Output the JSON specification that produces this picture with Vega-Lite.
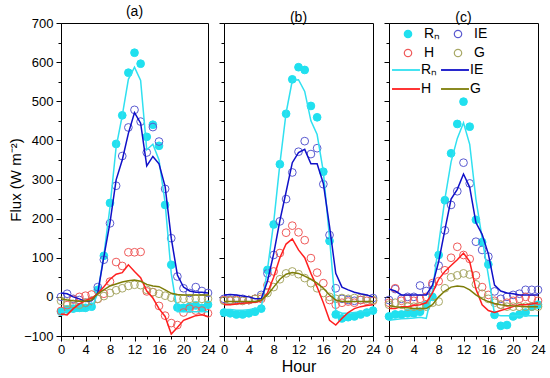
{
"$schema":"https://vega.github.io/schema/vega-lite/v6.json",
"background":"white",
"padding":{"left":8,"top":4,"right":2,"bottom":2},
"bounds":"flush",
"spacing":16,
"config":{
 "font":"Liberation Sans",
 "view":{"stroke":"black","strokeWidth":1},
 "axis":{"domainColor":"black","tickColor":"black","labelColor":"black","labelFontSize":13,"titleFontSize":15,"titleFontWeight":"normal","titleColor":"black","grid":false,"domainWidth":1,"tickWidth":1,"labelFlush":false},
 "title":{"fontSize":14,"fontWeight":"normal","color":"black","offset":-2},
 "legend":{"labelFont":"Liberation Sans","labelColor":"black"}
},
"datasets":{
"a_o":[
{"s":"Rₙ","h":0,"v":-38},{"s":"Rₙ","h":1,"v":-32},{"s":"Rₙ","h":2,"v":-30},{"s":"Rₙ","h":3,"v":-28},{"s":"Rₙ","h":4,"v":-28},{"s":"Rₙ","h":5,"v":-25},{"s":"Rₙ","h":6,"v":18},{"s":"Rₙ","h":7,"v":105},{"s":"Rₙ","h":8,"v":240},{"s":"Rₙ","h":9,"v":391},{"s":"Rₙ","h":10,"v":464},{"s":"Rₙ","h":11,"v":573},{"s":"Rₙ","h":12,"v":624},{"s":"Rₙ","h":13,"v":596},{"s":"Rₙ","h":14,"v":409},{"s":"Rₙ","h":15,"v":440},{"s":"Rₙ","h":16,"v":386},{"s":"Rₙ","h":17,"v":235},{"s":"Rₙ","h":18,"v":82},{"s":"Rₙ","h":19,"v":-27},{"s":"Rₙ","h":20,"v":-28},{"s":"Rₙ","h":21,"v":-25},{"s":"Rₙ","h":22,"v":-22},{"s":"Rₙ","h":23,"v":-28},{"s":"Rₙ","h":24,"v":-20},
{"s":"IE","h":0,"v":0},{"s":"IE","h":1,"v":8},{"s":"IE","h":2,"v":-5},{"s":"IE","h":3,"v":-8},{"s":"IE","h":4,"v":-15},{"s":"IE","h":5,"v":-10},{"s":"IE","h":6,"v":25},{"s":"IE","h":7,"v":95},{"s":"IE","h":8,"v":188},{"s":"IE","h":9,"v":284},{"s":"IE","h":10,"v":360},{"s":"IE","h":11,"v":433},{"s":"IE","h":12,"v":478},{"s":"IE","h":13,"v":448},{"s":"IE","h":14,"v":369},{"s":"IE","h":15,"v":434},{"s":"IE","h":16,"v":397},{"s":"IE","h":17,"v":276},{"s":"IE","h":18,"v":150},{"s":"IE","h":19,"v":52},{"s":"IE","h":20,"v":22},{"s":"IE","h":21,"v":10},{"s":"IE","h":22,"v":25},{"s":"IE","h":23,"v":15},{"s":"IE","h":24,"v":10},
{"s":"H","h":0,"v":-36},{"s":"H","h":1,"v":-21},{"s":"H","h":2,"v":-7},{"s":"H","h":3,"v":0},{"s":"H","h":4,"v":3},{"s":"H","h":5,"v":6},{"s":"H","h":6,"v":-5},{"s":"H","h":7,"v":8},{"s":"H","h":8,"v":39},{"s":"H","h":9,"v":89},{"s":"H","h":10,"v":79},{"s":"H","h":11,"v":114},{"s":"H","h":12,"v":114},{"s":"H","h":13,"v":115},{"s":"H","h":14,"v":14},{"s":"H","h":15,"v":12},{"s":"H","h":16,"v":-23},{"s":"H","h":17,"v":-48},{"s":"H","h":18,"v":-67},{"s":"H","h":19,"v":-72},{"s":"H","h":20,"v":-40},{"s":"H","h":21,"v":-30},{"s":"H","h":22,"v":-35},{"s":"H","h":23,"v":-35},{"s":"H","h":24,"v":-42},
{"s":"G","h":0,"v":-10},{"s":"G","h":1,"v":-15},{"s":"G","h":2,"v":-18},{"s":"G","h":3,"v":-20},{"s":"G","h":4,"v":-15},{"s":"G","h":5,"v":-10},{"s":"G","h":6,"v":-5},{"s":"G","h":7,"v":2},{"s":"G","h":8,"v":10},{"s":"G","h":9,"v":17},{"s":"G","h":10,"v":22},{"s":"G","h":11,"v":28},{"s":"G","h":12,"v":31},{"s":"G","h":13,"v":30},{"s":"G","h":14,"v":18},{"s":"G","h":15,"v":12},{"s":"G","h":16,"v":8},{"s":"G","h":17,"v":3},{"s":"G","h":18,"v":-2},{"s":"G","h":19,"v":-5},{"s":"G","h":20,"v":-5},{"s":"G","h":21,"v":-5},{"s":"G","h":22,"v":-5},{"s":"G","h":23,"v":-5},{"s":"G","h":24,"v":-5}
],
"a_m":[
{"s":"Rₙ","h":0,"v":-38},{"s":"Rₙ","h":1,"v":-38},{"s":"Rₙ","h":2,"v":-37},{"s":"Rₙ","h":3,"v":-37},{"s":"Rₙ","h":4,"v":-36},{"s":"Rₙ","h":5,"v":-30},{"s":"Rₙ","h":6,"v":10},{"s":"Rₙ","h":7,"v":107},{"s":"Rₙ","h":8,"v":230},{"s":"Rₙ","h":9,"v":383},{"s":"Rₙ","h":10,"v":463},{"s":"Rₙ","h":11,"v":556},{"s":"Rₙ","h":12,"v":587},{"s":"Rₙ","h":13,"v":553},{"s":"Rₙ","h":14,"v":376},{"s":"Rₙ","h":15,"v":390},{"s":"Rₙ","h":16,"v":350},{"s":"Rₙ","h":17,"v":240},{"s":"Rₙ","h":18,"v":60},{"s":"Rₙ","h":19,"v":-38},{"s":"Rₙ","h":20,"v":-38},{"s":"Rₙ","h":21,"v":-38},{"s":"Rₙ","h":22,"v":-38},{"s":"Rₙ","h":23,"v":-38},{"s":"Rₙ","h":24,"v":-38},
{"s":"IE","h":0,"v":10},{"s":"IE","h":1,"v":8},{"s":"IE","h":2,"v":0},{"s":"IE","h":3,"v":-5},{"s":"IE","h":4,"v":-12},{"s":"IE","h":5,"v":-10},{"s":"IE","h":6,"v":10},{"s":"IE","h":7,"v":103},{"s":"IE","h":8,"v":190},{"s":"IE","h":9,"v":299},{"s":"IE","h":10,"v":350},{"s":"IE","h":11,"v":418},{"s":"IE","h":12,"v":471},{"s":"IE","h":13,"v":444},{"s":"IE","h":14,"v":335},{"s":"IE","h":15,"v":359},{"s":"IE","h":16,"v":340},{"s":"IE","h":17,"v":282},{"s":"IE","h":18,"v":150},{"s":"IE","h":19,"v":56},{"s":"IE","h":20,"v":25},{"s":"IE","h":21,"v":15},{"s":"IE","h":22,"v":12},{"s":"IE","h":23,"v":12},{"s":"IE","h":24,"v":10},
{"s":"H","h":0,"v":-44},{"s":"H","h":1,"v":-46},{"s":"H","h":2,"v":-30},{"s":"H","h":3,"v":-18},{"s":"H","h":4,"v":-10},{"s":"H","h":5,"v":-3},{"s":"H","h":6,"v":8},{"s":"H","h":7,"v":26},{"s":"H","h":8,"v":45},{"s":"H","h":9,"v":58},{"s":"H","h":10,"v":62},{"s":"H","h":11,"v":82},{"s":"H","h":12,"v":65},{"s":"H","h":13,"v":49},{"s":"H","h":14,"v":15},{"s":"H","h":15,"v":-3},{"s":"H","h":16,"v":-30},{"s":"H","h":17,"v":-50},{"s":"H","h":18,"v":-95},{"s":"H","h":19,"v":-78},{"s":"H","h":20,"v":-60},{"s":"H","h":21,"v":-54},{"s":"H","h":22,"v":-48},{"s":"H","h":23,"v":-46},{"s":"H","h":24,"v":-50},
{"s":"G","h":0,"v":-5},{"s":"G","h":1,"v":-8},{"s":"G","h":2,"v":-10},{"s":"G","h":3,"v":-11},{"s":"G","h":4,"v":-11},{"s":"G","h":5,"v":-8},{"s":"G","h":6,"v":8},{"s":"G","h":7,"v":18},{"s":"G","h":8,"v":28},{"s":"G","h":9,"v":33},{"s":"G","h":10,"v":38},{"s":"G","h":11,"v":41},{"s":"G","h":12,"v":43},{"s":"G","h":13,"v":40},{"s":"G","h":14,"v":32},{"s":"G","h":15,"v":28},{"s":"G","h":16,"v":26},{"s":"G","h":17,"v":18},{"s":"G","h":18,"v":9},{"s":"G","h":19,"v":6},{"s":"G","h":20,"v":5},{"s":"G","h":21,"v":5},{"s":"G","h":22,"v":5},{"s":"G","h":23,"v":5},{"s":"G","h":24,"v":5}
],
"b_o":[
{"s":"Rₙ","h":0,"v":-40},{"s":"Rₙ","h":1,"v":-42},{"s":"Rₙ","h":2,"v":-45},{"s":"Rₙ","h":3,"v":-45},{"s":"Rₙ","h":4,"v":-42},{"s":"Rₙ","h":5,"v":-38},{"s":"Rₙ","h":6,"v":-30},{"s":"Rₙ","h":7,"v":69},{"s":"Rₙ","h":8,"v":185},{"s":"Rₙ","h":9,"v":339},{"s":"Rₙ","h":10,"v":468},{"s":"Rₙ","h":11,"v":556},{"s":"Rₙ","h":12,"v":587},{"s":"Rₙ","h":13,"v":580},{"s":"Rₙ","h":14,"v":488},{"s":"Rₙ","h":15,"v":459},{"s":"Rₙ","h":16,"v":320},{"s":"Rₙ","h":17,"v":143},{"s":"Rₙ","h":18,"v":-45},{"s":"Rₙ","h":19,"v":-55},{"s":"Rₙ","h":20,"v":-52},{"s":"Rₙ","h":21,"v":-50},{"s":"Rₙ","h":22,"v":-45},{"s":"Rₙ","h":23,"v":-40},{"s":"Rₙ","h":24,"v":-35},
{"s":"IE","h":0,"v":-5},{"s":"IE","h":1,"v":-8},{"s":"IE","h":2,"v":-5},{"s":"IE","h":3,"v":-5},{"s":"IE","h":4,"v":-8},{"s":"IE","h":5,"v":-5},{"s":"IE","h":6,"v":5},{"s":"IE","h":7,"v":60},{"s":"IE","h":8,"v":107},{"s":"IE","h":9,"v":193},{"s":"IE","h":10,"v":250},{"s":"IE","h":11,"v":318},{"s":"IE","h":12,"v":371},{"s":"IE","h":13,"v":398},{"s":"IE","h":14,"v":365},{"s":"IE","h":15,"v":380},{"s":"IE","h":16,"v":288},{"s":"IE","h":17,"v":158},{"s":"IE","h":18,"v":22},{"s":"IE","h":19,"v":-5},{"s":"IE","h":20,"v":-8},{"s":"IE","h":21,"v":-10},{"s":"IE","h":22,"v":-8},{"s":"IE","h":23,"v":-5},{"s":"IE","h":24,"v":-3},
{"s":"H","h":0,"v":-8},{"s":"H","h":1,"v":-10},{"s":"H","h":2,"v":-8},{"s":"H","h":3,"v":-10},{"s":"H","h":4,"v":-8},{"s":"H","h":5,"v":-5},{"s":"H","h":6,"v":-5},{"s":"H","h":7,"v":30},{"s":"H","h":8,"v":65},{"s":"H","h":9,"v":112},{"s":"H","h":10,"v":164},{"s":"H","h":11,"v":182},{"s":"H","h":12,"v":165},{"s":"H","h":13,"v":145},{"s":"H","h":14,"v":99},{"s":"H","h":15,"v":62},{"s":"H","h":16,"v":35},{"s":"H","h":17,"v":-8},{"s":"H","h":18,"v":-20},{"s":"H","h":19,"v":-15},{"s":"H","h":20,"v":-12},{"s":"H","h":21,"v":-15},{"s":"H","h":22,"v":-8},{"s":"H","h":23,"v":-10},{"s":"H","h":24,"v":-10},
{"s":"G","h":0,"v":-10},{"s":"G","h":1,"v":-8},{"s":"G","h":2,"v":-10},{"s":"G","h":3,"v":-10},{"s":"G","h":4,"v":-8},{"s":"G","h":5,"v":-5},{"s":"G","h":6,"v":0},{"s":"G","h":7,"v":10},{"s":"G","h":8,"v":25},{"s":"G","h":9,"v":45},{"s":"G","h":10,"v":60},{"s":"G","h":11,"v":65},{"s":"G","h":12,"v":58},{"s":"G","h":13,"v":48},{"s":"G","h":14,"v":35},{"s":"G","h":15,"v":22},{"s":"G","h":16,"v":10},{"s":"G","h":17,"v":0},{"s":"G","h":18,"v":-5},{"s":"G","h":19,"v":-3},{"s":"G","h":20,"v":-5},{"s":"G","h":21,"v":-3},{"s":"G","h":22,"v":-3},{"s":"G","h":23,"v":-5},{"s":"G","h":24,"v":-8}
],
"b_m":[
{"s":"Rₙ","h":0,"v":-32},{"s":"Rₙ","h":1,"v":-32},{"s":"Rₙ","h":2,"v":-34},{"s":"Rₙ","h":3,"v":-34},{"s":"Rₙ","h":4,"v":-33},{"s":"Rₙ","h":5,"v":-30},{"s":"Rₙ","h":6,"v":-28},{"s":"Rₙ","h":7,"v":70},{"s":"Rₙ","h":8,"v":190},{"s":"Rₙ","h":9,"v":340},{"s":"Rₙ","h":10,"v":470},{"s":"Rₙ","h":11,"v":553},{"s":"Rₙ","h":12,"v":555},{"s":"Rₙ","h":13,"v":525},{"s":"Rₙ","h":14,"v":450},{"s":"Rₙ","h":15,"v":415},{"s":"Rₙ","h":16,"v":320},{"s":"Rₙ","h":17,"v":150},{"s":"Rₙ","h":18,"v":-35},{"s":"Rₙ","h":19,"v":-42},{"s":"Rₙ","h":20,"v":-42},{"s":"Rₙ","h":21,"v":-40},{"s":"Rₙ","h":22,"v":-38},{"s":"Rₙ","h":23,"v":-36},{"s":"Rₙ","h":24,"v":-34},
{"s":"IE","h":0,"v":5},{"s":"IE","h":1,"v":6},{"s":"IE","h":2,"v":5},{"s":"IE","h":3,"v":2},{"s":"IE","h":4,"v":0},{"s":"IE","h":5,"v":-5},{"s":"IE","h":6,"v":-5},{"s":"IE","h":7,"v":40},{"s":"IE","h":8,"v":110},{"s":"IE","h":9,"v":195},{"s":"IE","h":10,"v":268},{"s":"IE","h":11,"v":343},{"s":"IE","h":12,"v":369},{"s":"IE","h":13,"v":377},{"s":"IE","h":14,"v":340},{"s":"IE","h":15,"v":340},{"s":"IE","h":16,"v":290},{"s":"IE","h":17,"v":180},{"s":"IE","h":18,"v":60},{"s":"IE","h":19,"v":25},{"s":"IE","h":20,"v":18},{"s":"IE","h":21,"v":12},{"s":"IE","h":22,"v":8},{"s":"IE","h":23,"v":5},{"s":"IE","h":24,"v":0},
{"s":"H","h":0,"v":-20},{"s":"H","h":1,"v":-20},{"s":"H","h":2,"v":-18},{"s":"H","h":3,"v":-16},{"s":"H","h":4,"v":-15},{"s":"H","h":5,"v":-14},{"s":"H","h":6,"v":-10},{"s":"H","h":7,"v":10},{"s":"H","h":8,"v":50},{"s":"H","h":9,"v":100},{"s":"H","h":10,"v":135},{"s":"H","h":11,"v":148},{"s":"H","h":12,"v":120},{"s":"H","h":13,"v":100},{"s":"H","h":14,"v":60},{"s":"H","h":15,"v":25},{"s":"H","h":16,"v":-15},{"s":"H","h":17,"v":-60},{"s":"H","h":18,"v":-72},{"s":"H","h":19,"v":-55},{"s":"H","h":20,"v":-40},{"s":"H","h":21,"v":-30},{"s":"H","h":22,"v":-25},{"s":"H","h":23,"v":-22},{"s":"H","h":24,"v":-20},
{"s":"G","h":0,"v":-12},{"s":"G","h":1,"v":-12},{"s":"G","h":2,"v":-12},{"s":"G","h":3,"v":-12},{"s":"G","h":4,"v":-12},{"s":"G","h":5,"v":-12},{"s":"G","h":6,"v":-8},{"s":"G","h":7,"v":5},{"s":"G","h":8,"v":25},{"s":"G","h":9,"v":45},{"s":"G","h":10,"v":58},{"s":"G","h":11,"v":62},{"s":"G","h":12,"v":60},{"s":"G","h":13,"v":53},{"s":"G","h":14,"v":45},{"s":"G","h":15,"v":35},{"s":"G","h":16,"v":22},{"s":"G","h":17,"v":5},{"s":"G","h":18,"v":-8},{"s":"G","h":19,"v":-12},{"s":"G","h":20,"v":-12},{"s":"G","h":21,"v":-12},{"s":"G","h":22,"v":-12},{"s":"G","h":23,"v":-12},{"s":"G","h":24,"v":-12}
],
"c_o":[
{"s":"Rₙ","h":0,"v":-50},{"s":"Rₙ","h":1,"v":-45},{"s":"Rₙ","h":2,"v":-45},{"s":"Rₙ","h":3,"v":-42},{"s":"Rₙ","h":4,"v":-42},{"s":"Rₙ","h":5,"v":-38},{"s":"Rₙ","h":6,"v":-20},{"s":"Rₙ","h":7,"v":0},{"s":"Rₙ","h":8,"v":107},{"s":"Rₙ","h":9,"v":247},{"s":"Rₙ","h":10,"v":367},{"s":"Rₙ","h":11,"v":442},{"s":"Rₙ","h":12,"v":499},{"s":"Rₙ","h":13,"v":435},{"s":"Rₙ","h":14,"v":197},{"s":"Rₙ","h":15,"v":140},{"s":"Rₙ","h":16,"v":83},{"s":"Rₙ","h":17,"v":-46},{"s":"Rₙ","h":18,"v":-74},{"s":"Rₙ","h":19,"v":-72},{"s":"Rₙ","h":20,"v":-50},{"s":"Rₙ","h":21,"v":-45},{"s":"Rₙ","h":22,"v":-40},{"s":"Rₙ","h":23,"v":-25},{"s":"Rₙ","h":24,"v":-20},
{"s":"IE","h":0,"v":-8},{"s":"IE","h":1,"v":20},{"s":"IE","h":2,"v":-5},{"s":"IE","h":3,"v":0},{"s":"IE","h":4,"v":0},{"s":"IE","h":5,"v":29},{"s":"IE","h":6,"v":15},{"s":"IE","h":7,"v":30},{"s":"IE","h":8,"v":80},{"s":"IE","h":9,"v":170},{"s":"IE","h":10,"v":235},{"s":"IE","h":11,"v":270},{"s":"IE","h":12,"v":343},{"s":"IE","h":13,"v":290},{"s":"IE","h":14,"v":141},{"s":"IE","h":15,"v":120},{"s":"IE","h":16,"v":103},{"s":"IE","h":17,"v":14},{"s":"IE","h":18,"v":-5},{"s":"IE","h":19,"v":0},{"s":"IE","h":20,"v":5},{"s":"IE","h":21,"v":8},{"s":"IE","h":22,"v":18},{"s":"IE","h":23,"v":18},{"s":"IE","h":24,"v":18},
{"s":"H","h":0,"v":-15},{"s":"H","h":1,"v":22},{"s":"H","h":2,"v":-10},{"s":"H","h":3,"v":-5},{"s":"H","h":4,"v":-10},{"s":"H","h":5,"v":-5},{"s":"H","h":6,"v":0},{"s":"H","h":7,"v":35},{"s":"H","h":8,"v":40},{"s":"H","h":9,"v":68},{"s":"H","h":10,"v":100},{"s":"H","h":11,"v":128},{"s":"H","h":12,"v":107},{"s":"H","h":13,"v":97},{"s":"H","h":14,"v":55},{"s":"H","h":15,"v":25},{"s":"H","h":16,"v":5},{"s":"H","h":17,"v":-10},{"s":"H","h":18,"v":-20},{"s":"H","h":19,"v":-15},{"s":"H","h":20,"v":-10},{"s":"H","h":21,"v":-5},{"s":"H","h":22,"v":0},{"s":"H","h":23,"v":-5},{"s":"H","h":24,"v":-10},
{"s":"G","h":0,"v":-20},{"s":"G","h":1,"v":-15},{"s":"G","h":2,"v":-20},{"s":"G","h":3,"v":-25},{"s":"G","h":4,"v":-25},{"s":"G","h":5,"v":-25},{"s":"G","h":6,"v":-25},{"s":"G","h":7,"v":-15},{"s":"G","h":8,"v":-12},{"s":"G","h":9,"v":22},{"s":"G","h":10,"v":50},{"s":"G","h":11,"v":55},{"s":"G","h":12,"v":60},{"s":"G","h":13,"v":57},{"s":"G","h":14,"v":32},{"s":"G","h":15,"v":8},{"s":"G","h":16,"v":-5},{"s":"G","h":17,"v":-15},{"s":"G","h":18,"v":-20},{"s":"G","h":19,"v":-25},{"s":"G","h":20,"v":-25},{"s":"G","h":21,"v":-25},{"s":"G","h":22,"v":-25},{"s":"G","h":23,"v":-25},{"s":"G","h":24,"v":-25}
],
"c_m":[
{"s":"Rₙ","h":0,"v":-60},{"s":"Rₙ","h":1,"v":-58},{"s":"Rₙ","h":2,"v":-56},{"s":"Rₙ","h":3,"v":-55},{"s":"Rₙ","h":4,"v":-54},{"s":"Rₙ","h":5,"v":-52},{"s":"Rₙ","h":6,"v":-55},{"s":"Rₙ","h":7,"v":15},{"s":"Rₙ","h":8,"v":135},{"s":"Rₙ","h":9,"v":250},{"s":"Rₙ","h":10,"v":345},{"s":"Rₙ","h":11,"v":405},{"s":"Rₙ","h":12,"v":445},{"s":"Rₙ","h":13,"v":390},{"s":"Rₙ","h":14,"v":250},{"s":"Rₙ","h":15,"v":150},{"s":"Rₙ","h":16,"v":55},{"s":"Rₙ","h":17,"v":-45},{"s":"Rₙ","h":18,"v":-48},{"s":"Rₙ","h":19,"v":-48},{"s":"Rₙ","h":20,"v":-48},{"s":"Rₙ","h":21,"v":-48},{"s":"Rₙ","h":22,"v":-48},{"s":"Rₙ","h":23,"v":-48},{"s":"Rₙ","h":24,"v":-48},
{"s":"IE","h":0,"v":20},{"s":"IE","h":1,"v":15},{"s":"IE","h":2,"v":5},{"s":"IE","h":3,"v":5},{"s":"IE","h":4,"v":5},{"s":"IE","h":5,"v":5},{"s":"IE","h":6,"v":5},{"s":"IE","h":7,"v":30},{"s":"IE","h":8,"v":90},{"s":"IE","h":9,"v":171},{"s":"IE","h":10,"v":250},{"s":"IE","h":11,"v":275},{"s":"IE","h":12,"v":314},{"s":"IE","h":13,"v":280},{"s":"IE","h":14,"v":190},{"s":"IE","h":15,"v":160},{"s":"IE","h":16,"v":110},{"s":"IE","h":17,"v":30},{"s":"IE","h":18,"v":15},{"s":"IE","h":19,"v":10},{"s":"IE","h":20,"v":8},{"s":"IE","h":21,"v":5},{"s":"IE","h":22,"v":5},{"s":"IE","h":23,"v":5},{"s":"IE","h":24,"v":5},
{"s":"H","h":0,"v":-30},{"s":"H","h":1,"v":-30},{"s":"H","h":2,"v":-25},{"s":"H","h":3,"v":-25},{"s":"H","h":4,"v":-22},{"s":"H","h":5,"v":-20},{"s":"H","h":6,"v":-15},{"s":"H","h":7,"v":10},{"s":"H","h":8,"v":45},{"s":"H","h":9,"v":65},{"s":"H","h":10,"v":80},{"s":"H","h":11,"v":95},{"s":"H","h":12,"v":112},{"s":"H","h":13,"v":90},{"s":"H","h":14,"v":20},{"s":"H","h":15,"v":-20},{"s":"H","h":16,"v":-35},{"s":"H","h":17,"v":-40},{"s":"H","h":18,"v":-35},{"s":"H","h":19,"v":-30},{"s":"H","h":20,"v":-25},{"s":"H","h":21,"v":-20},{"s":"H","h":22,"v":-20},{"s":"H","h":23,"v":-18},{"s":"H","h":24,"v":-15},
{"s":"G","h":0,"v":-22},{"s":"G","h":1,"v":-25},{"s":"G","h":2,"v":-27},{"s":"G","h":3,"v":-28},{"s":"G","h":4,"v":-30},{"s":"G","h":5,"v":-30},{"s":"G","h":6,"v":-30},{"s":"G","h":7,"v":-20},{"s":"G","h":8,"v":0},{"s":"G","h":9,"v":15},{"s":"G","h":10,"v":25},{"s":"G","h":11,"v":28},{"s":"G","h":12,"v":26},{"s":"G","h":13,"v":18},{"s":"G","h":14,"v":5},{"s":"G","h":15,"v":-5},{"s":"G","h":16,"v":-12},{"s":"G","h":17,"v":-17},{"s":"G","h":18,"v":-20},{"s":"G","h":19,"v":-22},{"s":"G","h":20,"v":-23},{"s":"G","h":21,"v":-24},{"s":"G","h":22,"v":-25},{"s":"G","h":23,"v":-25},{"s":"G","h":24,"v":-25}
]
},
"resolve":{"scale":{"fill":"independent","stroke":"independent","color":"independent"}},
"hconcat":[
{"width":147,"height":313,"title":"(a)",
 "layer":[
  {"data":{"name":"a_o"},"mark":{"type":"point","shape":"circle","size":60,"strokeWidth":1,"opacity":1},
   "encoding":{
    "x":{"field":"h","type":"quantitative","scale":{"domain":[0,24],"nice":false},"axis":{"values":[0,4,8,12,16,20,24],"tickSize":5,"labelPadding":2,"title":null,"orient":"bottom"}},
    "y":{"field":"v","type":"quantitative","scale":{"domain":[-100,700],"nice":false},"axis":{"values":[-100,0,100,200,300,400,500,600,700],"tickSize":5,"labelPadding":3,"title":"Flux (W m⁻²)","titlePadding":0,"orient":"left"}},
    "fill":{"field":"s","type":"nominal","scale":{"domain":["Rₙ","H","IE","G"],"range":["#20e0ef","transparent","transparent","transparent"]},"legend":null},
    "stroke":{"field":"s","type":"nominal","scale":{"domain":["Rₙ","H","IE","G"],"range":["#20e0ef","#ef5a5a","#5a5ad0","#a8a866"]},"legend":null}}},
  {"data":{"name":"a_m"},"mark":{"type":"line","strokeWidth":1.5},
   "encoding":{
    "x":{"field":"h","type":"quantitative","scale":{"domain":[0,24],"nice":false},"axis":{"values":[2,6,10,14,18,22],"tickSize":3,"labels":false,"domain":false,"title":null,"orient":"bottom"}},
    "y":{"field":"v","type":"quantitative","scale":{"domain":[-100,700],"nice":false},"axis":{"values":[-50,50,150,250,350,450,550,650],"tickSize":3,"labels":false,"domain":false,"title":null,"orient":"left"}},
    "color":{"field":"s","type":"nominal","sort":["Rₙ","H","IE","G"],"scale":{"range":["#30e0f0","#ff1f1f","#1010c8","#7d7d08"]},"legend":null}}}
 ],
 "resolve":{"axis":{"x":"independent","y":"independent"}}
},
{"width":149,"height":313,"title":"(b)",
 "layer":[
  {"data":{"name":"b_o"},"mark":{"type":"point","shape":"circle","size":60,"strokeWidth":1,"opacity":1},
   "encoding":{
    "x":{"field":"h","type":"quantitative","scale":{"domain":[0,24],"nice":false},"axis":{"values":[0,4,8,12,16,20,24],"tickSize":5,"labelPadding":2,"title":"Hour","titleFontSize":16,"titlePadding":2,"orient":"bottom"}},
    "y":{"field":"v","type":"quantitative","scale":{"domain":[-100,700],"nice":false},"axis":{"values":[-100,0,100,200,300,400,500,600,700],"tickSize":5,"labels":false,"title":null,"orient":"left"}},
    "fill":{"field":"s","type":"nominal","scale":{"domain":["Rₙ","H","IE","G"],"range":["#20e0ef","transparent","transparent","transparent"]},"legend":null},
    "stroke":{"field":"s","type":"nominal","scale":{"domain":["Rₙ","H","IE","G"],"range":["#20e0ef","#ef5a5a","#5a5ad0","#a8a866"]},"legend":null}}},
  {"data":{"name":"b_m"},"mark":{"type":"line","strokeWidth":1.5},
   "encoding":{
    "x":{"field":"h","type":"quantitative","scale":{"domain":[0,24],"nice":false},"axis":{"values":[2,6,10,14,18,22],"tickSize":3,"labels":false,"domain":false,"title":null,"orient":"bottom"}},
    "y":{"field":"v","type":"quantitative","scale":{"domain":[-100,700],"nice":false},"axis":{"values":[-50,50,150,250,350,450,550,650],"tickSize":3,"labels":false,"domain":false,"title":null,"orient":"left"}},
    "color":{"field":"s","type":"nominal","sort":["Rₙ","H","IE","G"],"scale":{"range":["#30e0f0","#ff1f1f","#1010c8","#7d7d08"]},"legend":null}}}
 ],
 "resolve":{"axis":{"x":"independent","y":"independent"}}
},
{"width":149,"height":313,"title":"(c)",
 "layer":[
  {"data":{"name":"c_o"},"mark":{"type":"point","shape":"circle","size":60,"strokeWidth":1,"opacity":1},
   "encoding":{
    "x":{"field":"h","type":"quantitative","scale":{"domain":[0,24],"nice":false},"axis":{"values":[0,4,8,12,16,20,24],"tickSize":5,"labelPadding":2,"title":null,"orient":"bottom"}},
    "y":{"field":"v","type":"quantitative","scale":{"domain":[-100,700],"nice":false},"axis":{"values":[-100,0,100,200,300,400,500,600,700],"tickSize":5,"labels":false,"title":null,"orient":"left"}},
    "fill":{"field":"s","type":"nominal","scale":{"domain":["Rₙ","H","IE","G"],"range":["#20e0ef","transparent","transparent","transparent"]},
      "legend":{"orient":"none","legendX":12,"legendY":4,"columns":2,"title":null,"symbolType":"circle","symbolSize":55,"symbolStrokeWidth":1.2,"labelFontSize":14,"labelOffset":9,"rowPadding":5,"columnPadding":10}},
    "stroke":{"field":"s","type":"nominal","scale":{"domain":["Rₙ","H","IE","G"],"range":["#20e0ef","#ef5a5a","#5a5ad0","#a8a866"]},
      "legend":{"orient":"none","legendX":12,"legendY":4,"columns":2,"title":null,"symbolType":"circle","symbolSize":55,"symbolStrokeWidth":1.2,"labelFontSize":14,"labelOffset":9,"rowPadding":5,"columnPadding":10}}}},
  {"data":{"name":"c_m"},"mark":{"type":"line","strokeWidth":1.5},
   "encoding":{
    "x":{"field":"h","type":"quantitative","scale":{"domain":[0,24],"nice":false},"axis":{"values":[2,6,10,14,18,22],"tickSize":3,"labels":false,"domain":false,"title":null,"orient":"bottom"}},
    "y":{"field":"v","type":"quantitative","scale":{"domain":[-100,700],"nice":false},"axis":{"values":[-50,50,150,250,350,450,550,650],"tickSize":3,"labels":false,"domain":false,"title":null,"orient":"left"}},
    "color":{"field":"s","type":"nominal","sort":["Rₙ","H","IE","G"],"scale":{"range":["#30e0f0","#ff1f1f","#1010c8","#7d7d08"]},
      "legend":{"orient":"none","legendX":10,"legendY":40,"columns":2,"title":null,"symbolType":"M-2.5,0H2.5","symbolSize":125,"symbolStrokeWidth":1.8,"labelFontSize":14,"labelOffset":8,"rowPadding":5,"columnPadding":-1}}}}
 ],
 "resolve":{"axis":{"x":"independent","y":"independent"}}
}
]
}
